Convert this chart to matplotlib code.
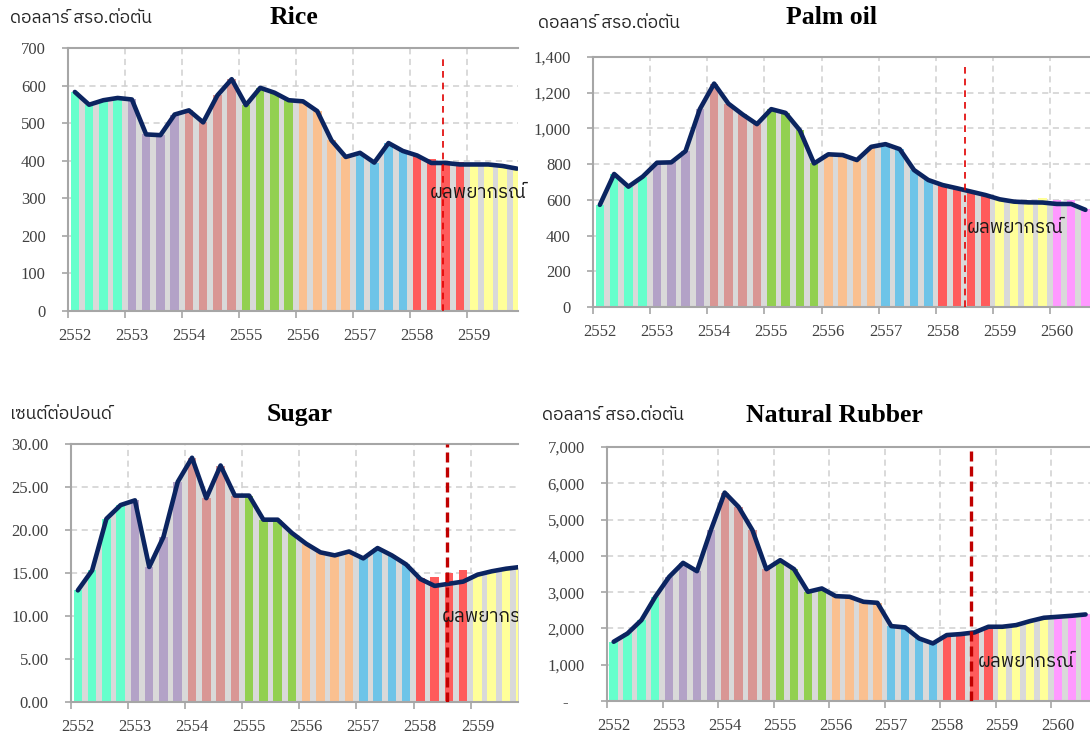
import numpy as np
import matplotlib
matplotlib.use("Agg")
import matplotlib.pyplot as plt
from matplotlib import font_manager
from matplotlib.ft2font import FT2Font
from matplotlib.ticker import FuncFormatter, FixedLocator

# quarterly prices, one value per quarter starting 2552 Q1
years = [2552, 2553, 2554, 2555, 2556, 2557, 2558, 2559, 2560]
year_colors = ['#66FFCC', '#B3A2C7', '#D99694', '#92D050', '#FAC090',
               '#6EC4E8', '#FF5B5B', '#FFFF99', '#FF99FF']

rice_price = [583, 549, 561, 567, 563, 470, 468, 523, 534, 502, 574, 617,
              548, 594, 581, 561, 558, 532, 454, 410, 421, 395, 447, 426,
              414, 394, 394, 390, 390, 390, 386, 379]
rice_bar = [583, 549, 561, 567, 563, 470, 468, 523, 534, 502, 574, 617,
            548, 594, 581, 561, 558, 532, 454, 410, 421, 395, 447, 426,
            412, 404, 400, 397, 390, 389, 384, 378]

palm_price = [572, 745, 674, 730, 808, 810, 873, 1108, 1251, 1139, 1078, 1024,
              1108, 1087, 990, 804, 855, 851, 823, 897, 912, 884, 767, 711,
              683, 665, 646, 627, 603, 590, 586, 585, 577, 577, 544]
palm_bar = [572, 745, 674, 730, 808, 810, 873, 1108, 1251, 1139, 1078, 1024,
            1108, 1087, 990, 804, 855, 851, 823, 897, 912, 884, 767, 711,
            683, 665, 646, 627, 603, 590, 588, 609, 600, 598, 550]

sugar_price = [12.98, 15.3, 21.3, 22.9, 23.45, 15.7, 19.2, 25.6, 28.4, 23.7, 27.5, 24.0,
               24.0, 21.2, 21.2, 19.65, 18.4, 17.4, 17.05, 17.5, 16.7, 17.9, 17.05, 16.0,
               14.3, 13.5, 13.75, 14.0, 14.8, 15.2, 15.5, 15.7]
sugar_bar = [12.98, 15.3, 21.3, 22.9, 23.45, 15.7, 19.2, 25.6, 28.4, 23.7, 27.5, 24.0,
             24.0, 21.2, 21.2, 19.65, 18.4, 17.4, 17.05, 17.5, 16.7, 17.9, 17.05, 16.0,
             14.4, 14.55, 15.05, 15.3, 14.8, 15.3, 15.6, 15.7]

rubber_price = [1633, 1862, 2229, 2872, 3422, 3807, 3578, 4706, 5743, 5349, 4706, 3633,
                3881, 3633, 3009, 3101, 2890, 2872, 2734, 2706, 2064, 2028, 1725, 1587,
                1817, 1844, 1890, 2046, 2046, 2092, 2202, 2294, 2321, 2349, 2385]
rubber_bar = rubber_price

forecast_label = 'ผลพยากรณ์'


def thai_font():
    found = []
    for f in font_manager.fontManager.ttflist:
        try:
            cmap = FT2Font(f.fname).get_charmap()
        except Exception:
            continue
        if 0x0E14 in cmap and 0x0E4C in cmap:
            found.append(f.name)
    for n in found:
        if 'Thai' in n and 'Looped' not in n:
            return n
    return found[0] if found else 'DejaVu Sans'


TH = thai_font()
SERIF = 'Liberation Serif'

W, H = 1090, 738
fig = plt.figure(figsize=(W / 100, H / 100), dpi=100)


def panel(box, title, unit, price, bar, ymax, ystep, fmt, xmax, cut, vstyle,
          txt_x, txt_y, title_xy, unit_xy, clip_text=False):
    l, t, r, b = box
    ax = fig.add_axes([l / W, 1 - b / H, (r - l) / W, (b - t) / H])
    n = len(price)
    x = 2552 + 0.12 + 0.25 * np.arange(n)
    cols = [year_colors[i // 4] for i in range(n)]

    ax.fill_between(x, 0, price, color='#D9D9D9', lw=0, zorder=1)
    ax.bar(x, bar, width=0.15, color=cols, lw=0, zorder=2)
    ax.plot(x, price, color='#0B2460', lw=3.3, solid_joinstyle='round',
            solid_capstyle='round', zorder=5)

    if vstyle == 'thin':
        ax.axvline(cut, ymax=0.975, color='#E00000', lw=1.2, ls=(0, (4, 3)), zorder=6)
    else:
        ax.axvline(cut, color='#C00000', lw=2.4, ls=(0, (3, 1.5)), zorder=6)

    ax.text(txt_x, txt_y, forecast_label, family=TH, fontsize=13.5,
            va='center', ha='left', color='#1a1a1a', zorder=7, clip_on=clip_text)

    ax.set_xlim(2552, xmax)
    ax.set_ylim(0, ymax)
    ax.xaxis.set_major_locator(FixedLocator(years))
    ax.xaxis.set_minor_locator(FixedLocator([y + 0.12 for y in years]))
    ax.xaxis.set_major_formatter(FuncFormatter(lambda v, p: ''))
    ax.xaxis.set_minor_formatter(FuncFormatter(lambda v, p: '%d' % round(v - 0.12)))
    ax.tick_params(axis='x', which='major', length=5, color='#A6A6A6', width=1.2)
    ax.tick_params(axis='x', which='minor', length=0, pad=12.5, labelsize=12,
                   labelcolor='#404040')
    ax.set_yticks(np.arange(0, ymax + ystep / 2, ystep))
    ax.yaxis.set_major_formatter(FuncFormatter(fmt))
    ax.tick_params(axis='y', length=4, color='#A6A6A6', width=1.2, pad=12,
                   labelsize=12, labelcolor='#404040')
    for lab in ax.get_xticklabels(minor=True) + ax.get_yticklabels():
        lab.set_family(SERIF)

    ax.grid(True, axis='both', which='major', color='#D0D0D0', ls=(0, (4, 3)),
            lw=1.1, zorder=0)
    ax.set_axisbelow(True)
    for s in ['left', 'bottom', 'top']:
        ax.spines[s].set_color('#A6A6A6')
        ax.spines[s].set_linewidth(1.5)
    ax.spines['right'].set_visible(False)

    fig.text(title_xy[0] / W, 1 - title_xy[1] / H, title, family=SERIF,
             weight='bold', fontsize=18.5, ha='center', va='center')
    fig.text(unit_xy[0] / W, 1 - unit_xy[1] / H, unit, family=TH,
             fontsize=12.5, ha='left', va='center', color='#262626')
    return ax


def fmt_int(v, p):
    return '{:,.0f}'.format(v)


def fmt_dash(v, p):
    return '-    ' if v == 0 else '{:,.0f}'.format(v)


def fmt_2(v, p):
    return '%.2f' % v


panel((68, 48, 518, 311), 'Rice', 'ดอลลาร์ สรอ.ต่อตัน', rice_price, rice_bar,
      700, 100, fmt_int, 2559.89, 2558.58, 'thin', 2558.34, 314,
      (294, 18), (10, 18))
panel((593, 57, 1090, 307), 'Palm oil', 'ดอลลาร์ สรอ.ต่อตัน', palm_price, palm_bar,
      1400, 200, fmt_int, 2560.7, 2558.51, 'thin', 2558.54, 443,
      (832, 18), (538, 23))
panel((71, 444, 518, 702), 'Sugar', 'เซนต์ต่อปอนด์', sugar_price, sugar_bar,
      30, 5, fmt_2, 2559.83, 2558.58, 'thick', 2558.49, 9.9,
      (300, 414), (10, 414), clip_text=True)
panel((607, 447, 1090, 701), 'Natural Rubber', 'ดอลลาร์ สรอ.ต่อตัน', rubber_price, rubber_bar,
      7000, 1000, fmt_dash, 2560.7, 2558.55, 'thick', 2558.68, 1082,
      (834, 415), (542, 415))

fig.savefig('out.png', dpi=100)
